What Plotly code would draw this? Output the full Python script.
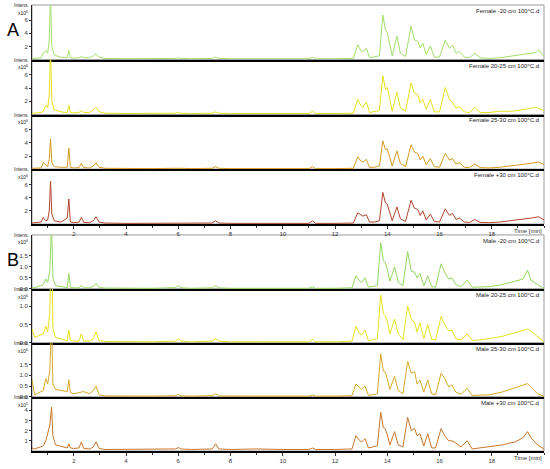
import plotly.graph_objects as go

# ---------------- data ----------------
TIME_A = [0.40, 0.75, 0.83, 0.93, 1.00, 1.06, 1.11, 1.16, 1.25, 1.50,
          1.75, 1.81, 1.87, 2.00, 2.20, 2.29, 2.38, 2.60, 2.75, 2.85,
          2.97, 3.20, 4.00, 5.00, 5.90, 6.00, 6.10, 6.50, 7.30, 7.43,
          7.55, 8.00, 9.00, 10.00, 11.00, 11.14, 11.25, 12.00, 12.70, 12.87,
          13.00, 13.07, 13.20, 13.32, 13.50, 13.70, 13.83, 13.93, 14.00, 14.06,
          14.19, 14.37, 14.50, 14.70, 14.91, 15.04, 15.17, 15.26, 15.36, 15.49,
          15.65, 15.80, 16.00, 16.22, 16.38, 16.50, 16.63, 16.76, 16.95, 17.15,
          17.35, 17.55, 17.90, 18.30, 18.80, 19.30, 19.50, 19.70, 19.80, 20.00]

TIME_B = [0.40, 0.50, 0.83, 0.93, 1.00, 1.08, 1.15, 1.20, 1.30, 1.60,
          1.75, 1.81, 1.87, 2.00, 2.20, 2.29, 2.38, 2.60, 2.75, 2.85,
          2.97, 3.20, 4.00, 5.00, 5.90, 6.00, 6.10, 6.50, 7.30, 7.43,
          7.55, 8.00, 9.00, 10.00, 11.00, 11.14, 11.25, 12.00, 12.65, 12.80,
          12.95, 13.02, 13.15, 13.28, 13.45, 13.62, 13.75, 13.85, 13.92, 14.00,
          14.10, 14.28, 14.42, 14.60, 14.78, 14.92, 15.05, 15.14, 15.25, 15.40,
          15.55, 15.70, 15.85, 16.06, 16.20, 16.35, 16.48, 16.62, 16.82, 17.06,
          17.25, 17.50, 17.90, 18.40, 18.90, 19.20, 19.37, 19.50, 19.75, 20.00]

# Intensities (x10^6 unless noted)
FEMALE_M20 = [0.20, 0.30, 1.00, 1.40, 1.00, 3.00, 10.0, 2.00, 0.70, 0.40,
              0.30, 1.40, 0.30, 0.25, 0.30, 0.50, 0.30, 0.30, 0.60, 0.90,
              0.40, 0.20, 0.15, 0.15, 0.20, 0.30, 0.20, 0.15, 0.20, 0.40,
              0.20, 0.15, 0.15, 0.15, 0.15, 0.40, 0.15, 0.15, 0.20, 2.30,
              1.30, 1.20, 1.75, 0.30, 0.40, 0.60, 6.80, 4.50, 4.10, 3.00,
              0.60, 3.60, 1.00, 0.50, 5.10, 3.00, 2.80, 1.80, 2.50, 0.80,
              2.10, 0.40, 0.40, 3.00, 1.75, 2.20, 1.00, 1.25, 0.40, 0.30,
              1.00, 0.30, 0.20, 0.30, 0.55, 0.90, 1.00, 1.10, 1.50, 0.50]

FEMALE_20_25 = [0.20, 0.30, 0.50, 1.40, 1.00, 3.00, 10.0, 2.00, 0.70, 0.40,
                0.30, 1.40, 0.30, 0.25, 0.30, 0.60, 0.30, 0.30, 0.70, 1.10,
                0.40, 0.20, 0.15, 0.15, 0.20, 0.30, 0.20, 0.15, 0.20, 0.40,
                0.20, 0.15, 0.15, 0.15, 0.15, 0.50, 0.15, 0.15, 0.20, 2.30,
                1.30, 1.10, 1.90, 0.30, 0.40, 0.60, 5.90, 3.80, 4.10, 3.10,
                0.50, 3.40, 1.00, 0.50, 4.80, 3.20, 3.00, 1.80, 2.30, 0.80,
                2.30, 0.40, 0.40, 4.10, 2.30, 1.80, 1.00, 1.20, 0.40, 0.30,
                1.10, 0.30, 0.30, 0.50, 0.50, 0.80, 1.00, 1.10, 0.90, 0.60]

FEMALE_25_30 = [0.15, 0.20, 1.00, 0.60, 0.40, 1.50, 4.60, 1.00, 0.40, 0.30,
                0.30, 3.20, 0.30, 0.20, 0.25, 0.90, 0.25, 0.20, 0.50, 1.00,
                0.30, 0.15, 0.10, 0.10, 0.15, 0.20, 0.15, 0.10, 0.15, 0.40,
                0.15, 0.10, 0.10, 0.10, 0.10, 0.40, 0.10, 0.10, 0.15, 1.90,
                1.20, 1.10, 1.50, 0.30, 0.30, 0.50, 4.30, 3.00, 3.10, 2.30,
                0.50, 2.80, 0.90, 0.40, 3.70, 2.60, 2.40, 1.40, 2.00, 0.70,
                1.60, 0.40, 0.30, 2.40, 1.40, 1.60, 0.80, 1.00, 0.30, 0.25,
                0.80, 0.25, 0.20, 0.30, 0.50, 0.80, 0.90, 1.00, 1.10, 0.70]

FEMALE_P30 = [0.15, 0.30, 1.00, 0.50, 0.60, 2.00, 6.50, 1.50, 0.50, 0.30,
              0.90, 3.80, 0.30, 0.20, 0.30, 1.00, 0.25, 0.20, 0.50, 1.10,
              0.30, 0.15, 0.10, 0.10, 0.15, 0.20, 0.15, 0.10, 0.15, 0.50,
              0.15, 0.10, 0.10, 0.10, 0.10, 0.50, 0.10, 0.10, 0.15, 1.70,
              1.40, 1.20, 1.40, 0.30, 0.30, 0.50, 4.80, 3.20, 3.00, 2.30,
              0.50, 2.60, 0.80, 0.40, 3.60, 2.40, 2.20, 1.30, 2.00, 0.60,
              1.50, 0.40, 0.30, 2.30, 1.30, 1.60, 0.70, 0.90, 0.30, 0.25,
              0.70, 0.25, 0.20, 0.30, 0.50, 0.80, 0.90, 1.00, 1.10, 0.60]

MALE_M20 = [0.05, 0.05, 0.20, 0.45, 0.30, 0.80, 3.00, 0.50, 0.15, 0.08,
            0.06, 0.70, 0.08, 0.05, 0.05, 0.15, 0.05, 0.05, 0.12, 0.25,
            0.06, 0.04, 0.03, 0.03, 0.06, 0.15, 0.05, 0.03, 0.05, 0.15,
            0.05, 0.03, 0.03, 0.03, 0.03, 0.10, 0.03, 0.03, 0.05, 0.60,
            0.35, 0.30, 0.50, 0.08, 0.10, 0.15, 2.10, 1.30, 1.20, 0.90,
            0.35, 1.00, 0.30, 0.15, 1.70, 0.80, 0.76, 0.50, 0.70, 0.15,
            0.60, 0.10, 0.08, 1.14, 0.76, 0.45, 0.50, 0.20, 0.10, 0.40,
            0.08, 0.08, 0.10, 0.20, 0.35, 0.45, 0.85, 0.40, 0.20, 0.02]

MALE_20_25 = [0.40, 0.15, 0.25, 0.45, 0.30, 0.80, 3.00, 0.40, 0.15, 0.08,
              0.06, 0.35, 0.08, 0.05, 0.05, 0.25, 0.05, 0.05, 0.12, 0.30,
              0.06, 0.04, 0.03, 0.03, 0.05, 0.12, 0.05, 0.03, 0.05, 0.12,
              0.05, 0.03, 0.03, 0.03, 0.03, 0.10, 0.03, 0.03, 0.05, 0.45,
              0.25, 0.22, 0.35, 0.06, 0.08, 0.12, 1.30, 0.80, 0.75, 0.60,
              0.25, 0.65, 0.25, 0.10, 1.00, 0.65, 0.55, 0.30, 0.55, 0.12,
              0.50, 0.10, 0.08, 0.72, 0.50, 0.33, 0.35, 0.12, 0.08, 0.25,
              0.07, 0.08, 0.12, 0.18, 0.28, 0.35, 0.38, 0.32, 0.17, 0.03]

MALE_25_30 = [0.80, 0.10, 0.30, 0.85, 0.60, 1.20, 3.50, 0.60, 0.35, 0.30,
              0.25, 0.80, 0.20, 0.15, 0.20, 0.25, 0.25, 0.15, 0.30, 0.50,
              0.10, 0.05, 0.04, 0.04, 0.06, 0.12, 0.05, 0.04, 0.06, 0.15,
              0.05, 0.04, 0.04, 0.04, 0.04, 0.10, 0.04, 0.04, 0.06, 0.60,
              0.40, 0.35, 0.50, 0.08, 0.10, 0.15, 2.00, 1.20, 1.15, 0.85,
              0.35, 0.95, 0.30, 0.15, 1.64, 1.10, 1.17, 0.60, 0.78, 0.23,
              0.78, 0.15, 0.10, 1.10, 0.86, 0.47, 0.55, 0.23, 0.12, 0.40,
              0.07, 0.08, 0.10, 0.23, 0.45, 0.55, 0.62, 0.47, 0.15, 0.03]

# x10^5
MALE_P30 = [0.30, 0.20, 0.50, 1.00, 1.70, 2.50, 4.30, 1.50, 0.60, 0.40,
            0.30, 0.70, 0.30, 0.25, 0.30, 0.90, 0.25, 0.20, 0.40, 0.90,
            0.25, 0.15, 0.15, 0.15, 0.20, 0.35, 0.20, 0.15, 0.20, 0.70,
            0.20, 0.15, 0.20, 0.15, 0.15, 0.30, 0.15, 0.15, 0.20, 1.50,
            1.00, 0.90, 1.20, 0.30, 0.40, 0.50, 3.80, 2.30, 2.20, 1.60,
            0.60, 1.90, 0.60, 0.40, 3.30, 2.00, 2.20, 1.50, 1.70, 0.50,
            1.70, 0.30, 0.30, 2.20, 1.50, 1.00, 1.00, 0.80, 0.40, 1.00,
            0.20, 0.30, 0.40, 0.60, 0.90, 1.30, 1.90, 1.30, 0.60, 0.20]

LABELS = ["Female -20 cm 100°C.d", "Female 20-25 cm 100°C.d",
          "Female 25-30 cm 100°C.d", "Female +30 cm 100°C.d",
          "Male -20 cm 100°C.d", "Male 20-25 cm 100°C.d",
          "Male 25-30 cm 100°C.d", "Male +30 cm 100°C.d"]
EXPONENTS = ["6", "6", "6", "6", "6", "6", "6", "5"]
X_TICKS = [2, 4, 6, 8, 10, 12, 14, 16, 18]
Y_TICKS = [[2, 4, 6]] * 4 + [[0, 0.5, 1.0, 1.5], [0, 0.5, 1.0],
                             [0, 0.5, 1.0, 1.5], [1, 2, 3, 4]]

SERIES = [(TIME_A, FEMALE_M20), (TIME_A, FEMALE_20_25), (TIME_A, FEMALE_25_30),
          (TIME_A, FEMALE_P30), (TIME_B, MALE_M20), (TIME_B, MALE_20_25),
          (TIME_B, MALE_25_30), (TIME_B, MALE_P30)]

# ---------------- styles ----------------
COLORS = ["#a4df6c", "#e4e21c", "#d39a22", "#b2462c",
          "#94d860", "#e6e41a", "#d6aa26", "#c6762c"]
Y_RANGES = [[0, 8.3]] * 4 + [[0, 2.45], [0, 1.47], [0, 2.5], [0, 5.3]]
FONT = "Arial, Liberation Sans, sans-serif"

W, H = 550, 469
MT, MB = 5, 14
PH = H - MT - MB


def py(pix):
    return (H - MB - pix) / PH


groups = [(5, 226), (237, 455)]
domains = []
for top, bot in groups:
    step = (bot - top) / 4
    for k in range(4):
        domains.append([py(top + (k + 1) * step), py(top + k * step)])

fig = go.Figure()
layout = {}
shapes = []
annotations = []
for i, ((t, v), col) in enumerate(zip(SERIES, COLORS)):
    n = i + 1
    xs = "x" if n == 1 else f"x{n}"
    ys = "y" if n == 1 else f"y{n}"
    xk = "xaxis" if n == 1 else f"xaxis{n}"
    yk = "yaxis" if n == 1 else f"yaxis{n}"
    bottom = n in (4, 8)
    fig.add_trace(go.Scatter(x=t, y=v, mode="lines", line=dict(color=col, width=1),
                             xaxis=xs, yaxis=ys, showlegend=False, hoverinfo="skip"))
    xa = dict(domain=[0, 1], anchor=ys, range=[0.4, 20.0], showline=True,
              linecolor="black", linewidth=2, showgrid=False, zeroline=False,
              showticklabels=bottom, ticks="outside" if bottom else "",
              tickvals=X_TICKS, ticklen=3, tickcolor="#333",
              tickfont=dict(size=6, color="#333", family=FONT))
    if bottom:
        xa["minor"] = dict(dtick=1, ticks="outside", ticklen=2, tickcolor="#333")
    layout[xk] = xa
    yt = Y_TICKS[i]
    if i in (4, 5, 6):
        ytxt = [f"{val:.1f}" for val in yt]
    else:
        ytxt = [str(val) for val in yt]
    layout[yk] = dict(domain=domains[i], anchor=xs, range=Y_RANGES[i], showline=True,
                      linecolor="#222", linewidth=1, showgrid=False, zeroline=False,
                      ticks="outside", ticklen=2, tickcolor="#333",
                      tickvals=yt, ticktext=ytxt,
                      tickfont=dict(size=6, color="#333", family=FONT))
    shapes.append(dict(type="rect", xref=f"{xs} domain", yref=f"{ys} domain",
                       x0=0, x1=1, y0=0, y1=1, line=dict(color="#9a9a9a", width=1),
                       layer="below"))
    annotations.append(dict(text=LABELS[i], xref=f"{xs} domain", yref=f"{ys} domain",
                            x=0.995, y=0.985, xanchor="right", yanchor="top",
                            showarrow=False, font=dict(size=6, color="#222", family=FONT)))
    annotations.append(dict(text="Intens.", xref=f"{xs} domain", yref=f"{ys} domain",
                            x=-0.002, y=1.0, xanchor="right", yanchor="middle",
                            showarrow=False, font=dict(size=5, color="#222", family=FONT)))
    annotations.append(dict(text=f"x10<sup>{EXPONENTS[i]}</sup>", xref=f"{xs} domain",
                            yref=f"{ys} domain", x=-0.004, y=0.86, xanchor="right",
                            yanchor="middle", showarrow=False,
                            font=dict(size=5, color="#222", family=FONT)))
    if bottom:
        annotations.append(dict(text="Time [min]", xref=f"{xs} domain", yref=f"{ys} domain",
                                x=0.969, y=0, yshift=-2, xanchor="center", yanchor="top",
                                showarrow=False, font=dict(size=6, color="#333", family=FONT)))

annotations.append(dict(text="A", xref="paper", yref="paper", x=-0.037, y=py(30),
                        xanchor="center", yanchor="middle", showarrow=False,
                        font=dict(size=18, color="black", family=FONT)))
annotations.append(dict(text="B", xref="paper", yref="paper", x=-0.037, y=py(262),
                        xanchor="center", yanchor="middle", showarrow=False,
                        font=dict(size=18, color="black", family=FONT)))

fig.update_layout(width=W, height=H, margin=dict(l=32, r=6, t=MT, b=MB),
                  paper_bgcolor="white", plot_bgcolor="white",
                  shapes=shapes, annotations=annotations, **layout)
fig.write_html("out.html", config={"displayModeBar": False},
               post_script="document.body.style.margin='0';document.body.style.overflow='hidden';")
